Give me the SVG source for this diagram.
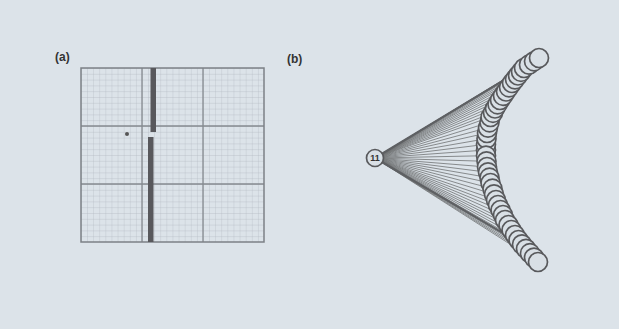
<svg xmlns="http://www.w3.org/2000/svg" width="619" height="329" viewBox="0 0 619 329">
<defs>
<pattern id="fine" patternUnits="userSpaceOnUse" x="81" y="68" width="6.1" height="5.8">
<path d="M0 0V5.8M0 0H6.1" fill="none" stroke="#aab2ba" stroke-width="0.6"/>
</pattern>
</defs>
<style>
.lbl{font-family:"Liberation Sans",Arial,sans-serif;font-size:12px;font-weight:bold;fill:#333}
.major{stroke:#858a90;stroke-width:1.3;fill:none}
.bar{fill:#58585c}
.c{fill:#d9e0e6;stroke:#58595c;stroke-width:1.7}
.fan{stroke:#707274;stroke-width:0.8;fill:none}
.nt{font-family:"Liberation Sans",Arial,sans-serif;font-size:9px;font-weight:bold;fill:#333;text-anchor:middle}
</style>
<rect width="619" height="329" fill="#dce3e9"/>
<g id="panel-a">
<text class="lbl" x="55" y="61">(a)</text>
<rect x="81" y="68" width="183" height="174" fill="url(#fine)"/>
<path class="major" d="M142 68V242M203 68V242M81 126H264M81 184H264"/>
<rect x="81" y="68" width="183" height="174" fill="none" stroke="#7c8186" stroke-width="1.5"/>
<rect class="bar" x="150.5" y="68" width="5.5" height="64"/>
<rect class="bar" x="148" y="137" width="5.5" height="105"/>
<circle cx="127" cy="134" r="2" fill="#555"/>
</g>
<text class="lbl" x="287" y="63">(b)</text>
<g id="connectors">
<path class="fan" d="M375 158L539 58M375 158L534 61.3M375 158L529 64.7M375 158L524 68M375 158L521 71.8M375 158L518 75.5M375 158L515 79.3M375 158L512 83M375 158L509 87.3M375 158L506 91.5M375 158L503 95.8M375 158L500 100M375 158L497.5 104.3M375 158L495 108.5M375 158L493 112.8M375 158L490.5 117M375 158L489.5 122.3M375 158L488 127.7M375 158L487 133M375 158L486.5 138.7M375 158L486 144.3M375 158L486 150M375 158L486 155.7M375 158L486.5 161.3M375 158L487 167M375 158L488 172.3M375 158L489.5 177.7M375 158L490.5 183M375 158L492.5 188.7M375 158L494 194.3M375 158L496 200M375 158L498 205M375 158L500.5 210M375 158L503 215M375 158L505 220M375 158L508.5 225M375 158L511.5 230M375 158L515 235M375 158L518.5 240M375 158L522 244.4M375 158L526 248.8M375 158L530 253.2M375 158L534 257.6M375 158L538 262"/>
<path d="M375 158L524 68M375 158L522 244.4" stroke="#5e6063" stroke-width="2.2" fill="none"/>
</g>
<g id="chain">
<g id="n21"><circle class="c" cx="486" cy="150" r="9.5"/></g>
<g id="n20"><circle class="c" cx="486" cy="144.3" r="9.5"/></g>
<g id="n19"><circle class="c" cx="486.5" cy="138.7" r="9.5"/></g>
<g id="n18"><circle class="c" cx="487" cy="133" r="9.5"/></g>
<g id="n17"><circle class="c" cx="488" cy="127.7" r="9.5"/></g>
<g id="n16"><circle class="c" cx="489.5" cy="122.3" r="9.5"/></g>
<g id="n15"><circle class="c" cx="490.5" cy="117" r="9.5"/></g>
<g id="n14"><circle class="c" cx="493" cy="112.8" r="9.5"/></g>
<g id="n13"><circle class="c" cx="495" cy="108.5" r="9.5"/></g>
<g id="n12"><circle class="c" cx="497.5" cy="104.3" r="9.5"/></g>
<g id="n11"><circle class="c" cx="500" cy="100" r="9.5"/></g>
<g id="n10"><circle class="c" cx="503" cy="95.8" r="9.5"/></g>
<g id="n9"><circle class="c" cx="506" cy="91.5" r="9.5"/></g>
<g id="n8"><circle class="c" cx="509" cy="87.3" r="9.5"/></g>
<g id="n7"><circle class="c" cx="512" cy="83" r="9.5"/></g>
<g id="n6"><circle class="c" cx="515" cy="79.3" r="9.5"/></g>
<g id="n5"><circle class="c" cx="518" cy="75.5" r="9.5"/></g>
<g id="n4"><circle class="c" cx="521" cy="71.8" r="9.5"/></g>
<g id="n3"><circle class="c" cx="524" cy="68" r="9.5"/></g>
<g id="n2"><circle class="c" cx="529" cy="64.7" r="9.5"/></g>
<g id="n1"><circle class="c" cx="534" cy="61.3" r="9.5"/></g>
<g id="n0"><circle class="c" cx="539" cy="58" r="9.5"/></g>
<g id="n22"><circle class="c" cx="486" cy="155.7" r="9.5"/></g>
<g id="n23"><circle class="c" cx="486.5" cy="161.3" r="9.5"/></g>
<g id="n24"><circle class="c" cx="487" cy="167" r="9.5"/></g>
<g id="n25"><circle class="c" cx="488" cy="172.3" r="9.5"/></g>
<g id="n26"><circle class="c" cx="489.5" cy="177.7" r="9.5"/></g>
<g id="n27"><circle class="c" cx="490.5" cy="183" r="9.5"/></g>
<g id="n28"><circle class="c" cx="492.5" cy="188.7" r="9.5"/></g>
<g id="n29"><circle class="c" cx="494" cy="194.3" r="9.5"/></g>
<g id="n30"><circle class="c" cx="496" cy="200" r="9.5"/></g>
<g id="n31"><circle class="c" cx="498" cy="205" r="9.5"/></g>
<g id="n32"><circle class="c" cx="500.5" cy="210" r="9.5"/></g>
<g id="n33"><circle class="c" cx="503" cy="215" r="9.5"/></g>
<g id="n34"><circle class="c" cx="505" cy="220" r="9.5"/></g>
<g id="n35"><circle class="c" cx="508.5" cy="225" r="9.5"/></g>
<g id="n36"><circle class="c" cx="511.5" cy="230" r="9.5"/></g>
<g id="n37"><circle class="c" cx="515" cy="235" r="9.5"/></g>
<g id="n38"><circle class="c" cx="518.5" cy="240" r="9.5"/></g>
<g id="n39"><circle class="c" cx="522" cy="244.4" r="9.5"/></g>
<g id="n40"><circle class="c" cx="526" cy="248.8" r="9.5"/></g>
<g id="n41"><circle class="c" cx="530" cy="253.2" r="9.5"/></g>
<g id="n42"><circle class="c" cx="534" cy="257.6" r="9.5"/></g>
<g id="n43"><circle class="c" cx="538" cy="262" r="9.5"/></g>
</g>
<g id="node-11">
<circle class="c" cx="375" cy="158" r="8.5"/>
<text class="nt" x="375" y="161.2">11</text>
</g>
</svg>
